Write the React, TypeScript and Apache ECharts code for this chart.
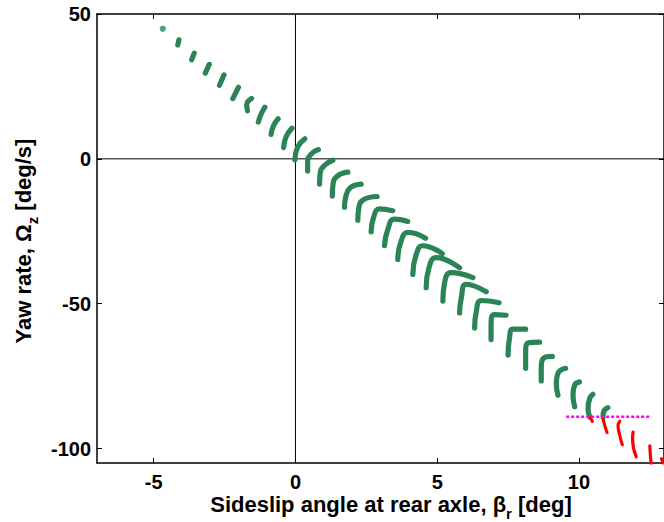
import React, { useEffect, useRef } from "react";
import * as echarts from "echarts";

type Pt = [number, number];

const xRange: Pt = [-7, 13];
const yRange: Pt = [-105, 50];
const xTicks = [-5, 0, 5, 10];
const yTicks = [-100, -50, 0, 50];

// stable (green) trajectories: each arc from its upper-right end down to its lower end
const greenArcs: Pt[][] = [
  [[-4.68, 44.9]],
  [[-4.11, 41.1], [-4.15, 39.3]],
  [[-3.57, 36.5], [-3.66, 34.2]],
  [[-3.04, 32.6], [-3.18, 29.6]],
  [[-2.52, 29.0], [-2.68, 25.4]],
  [[-2.01, 24.7], [-2.21, 20.8]],
  [[-1.55, 20.8], [-1.72, 18.6], [-1.69, 16.6]],
  [[-1.08, 17.8], [-1.21, 15.5], [-1.31, 12.7]],
  [[-0.61, 13.8], [-0.78, 11.3], [-0.86, 8.4]],
  [[-0.12, 10.6], [-0.33, 7.6], [-0.42, 3.9]],
  [[0.33, 6.9], [0.08, 4.1], [-0.02, -0.3]],
  [[0.81, 3.2], [0.55, 1.6], [0.43, -1.1], [0.43, -4.2]],
  [[1.32, -0.5], [1.02, -2.3], [0.87, -5.1], [0.85, -8.7]],
  [[1.85, -4.6], [1.46, -6.1], [1.32, -9.2], [1.3, -12.8]],
  [[2.32, -8.7], [1.93, -10.0], [1.77, -13.3], [1.73, -16.7]],
  [[2.88, -13.0], [2.4, -14.1], [2.23, -17.3], [2.2, -21.2]],
  [[3.43, -17.9], [2.96, -17.3], [2.75, -20.4], [2.67, -25.2]],
  [[3.96, -21.6], [3.49, -20.8], [3.26, -24.3], [3.14, -30.0]],
  [[4.59, -27.4], [3.97, -25.4], [3.73, -28.3], [3.61, -34.7]],
  [[5.18, -32.7], [4.49, -30.0], [4.26, -33.0], [4.14, -39.9]],
  [[5.79, -37.6], [4.97, -34.1], [4.71, -37.6], [4.61, -44.5]],
  [[6.26, -41.0], [5.49, -39.3], [5.26, -42.8], [5.2, -49.1]],
  [[6.73, -45.9], [6.02, -43.3], [5.85, -48.0], [5.79, -53.2]],
  [[7.18, -49.7], [6.56, -48.9], [6.38, -52.6], [6.32, -58.4]],
  [[7.43, -54.0], [7.02, -53.8], [6.9, -57.2], [6.9, -62.4]],
  [[8.12, -58.8], [7.67, -58.8], [7.55, -61.9], [7.5, -67.7]],
  [[8.61, -63.3], [8.2, -63.6], [8.12, -67.1], [8.12, -72.3]],
  [[9.06, -68.2], [8.73, -69.0], [8.67, -72.3], [8.67, -76.7]],
  [[9.53, -72.3], [9.26, -74.0], [9.2, -77.5], [9.26, -81.6]],
  [[10.02, -77.0], [9.85, -78.1], [9.79, -81.5], [9.85, -85.6]],
  [[10.49, -81.3], [10.38, -82.7], [10.32, -86.2], [10.38, -89.1]],
  [[11.02, -85.9], [10.87, -87.3], [10.85, -89.1]],
];

// unstable (red) trajectories below the limit
const redArcs: Pt[][] = [
  [[10.4, -89.4], [10.47, -90.6]],
  [[10.85, -89.7], [10.91, -92.0], [10.99, -94.5]],
  [[11.44, -90.6], [11.38, -92.0], [11.44, -95.5], [11.53, -98.7]],
  [[11.91, -94.3], [11.89, -96.6], [12.02, -102.9]],
  [[12.5, -99.1], [12.52, -102.4], [12.55, -105.8]],
  [[12.91, -103.5], [12.99, -105.3]],
];

const limitX = [9.55, 12.55];
const limitY = -89;

const GREEN = "#2a8456";
const RED = "#ff0000";
const MAGENTA = "#ff00ff";
const FONT = "'Liberation Sans', Arial, sans-serif";

function arcSeries(arcs: Pt[][], color: string, width: number): any[] {
  return arcs.map((arc) =>
    arc.length === 1
      ? {
          type: "scatter",
          data: arc,
          symbol: "circle",
          symbolSize: width + 1,
          itemStyle: { color },
          z: 3,
          silent: true,
        }
      : {
          type: "line",
          data: arc,
          showSymbol: false,
          smooth: 0.5,
          lineStyle: { color, width, cap: "round", join: "round" },
          z: 3,
          silent: true,
        }
  );
}

export default function App() {
  const ref = useRef<HTMLDivElement>(null);

  useEffect(() => {
    if (!ref.current) return;
    const chart = echarts.init(ref.current, undefined, { renderer: "svg" });

    const axisCommon = {
      type: "value",
      splitLine: { show: false },
      axisLine: { show: true, onZero: false, lineStyle: { color: "#000", width: 1.5 } },
    };
    const tickStyle = (vals: number[]) => ({
      show: true,
      inside: true,
      length: 5,
      customValues: vals,
      lineStyle: { color: "#000" },
    });
    const labelStyle = {
      color: "#000",
      fontSize: 20,
      fontWeight: "bold",
      fontFamily: FONT,
    };
    const rich = {
      m: { fontSize: 22, fontWeight: "bold", fontFamily: FONT, lineHeight: 34, fill: "#000" },
      s: { fontSize: 15, fontWeight: "bold", fontFamily: FONT, lineHeight: 12, verticalAlign: "bottom", fill: "#000" },
    };

    const option: any = {
      animation: false,
      backgroundColor: "#fff",
      grid: { left: 97, right: -1, top: 14, bottom: 59, containLabel: false },
      xAxis: [
        {
          ...axisCommon,
          min: xRange[0],
          max: xRange[1],
          position: "bottom",
          axisTick: tickStyle(xTicks),
          axisLabel: { ...labelStyle, customValues: xTicks, margin: 9 },
        },
        {
          ...axisCommon,
          min: xRange[0],
          max: xRange[1],
          position: "top",
          axisTick: tickStyle(xTicks),
          axisLabel: { show: false },
        },
      ],
      yAxis: [
        {
          ...axisCommon,
          min: yRange[0],
          max: yRange[1],
          position: "left",
          axisTick: tickStyle(yTicks),
          axisLabel: { ...labelStyle, customValues: yTicks, margin: 6 },
        },
        {
          ...axisCommon,
          min: yRange[0],
          max: yRange[1],
          position: "right",
          axisTick: tickStyle(yTicks),
          axisLabel: { show: false },
        },
      ],
      graphic: [
        {
          type: "text",
          x: 391,
          y: 504,
          silent: true,
          style: {
            text: "{m|Sideslip angle at rear axle, β}{s|r}{m| [deg]}",
            align: "center",
            verticalAlign: "middle",
            fill: "#000",
            rich,
          },
        },
        {
          type: "text",
          x: 23,
          y: 241,
          rotation: Math.PI / 2,
          silent: true,
          style: {
            text: "{m|Yaw rate, Ω}{s|z}{m| [deg/s]}",
            align: "center",
            verticalAlign: "middle",
            fill: "#000",
            rich,
          },
        },
      ],
      series: [
        {
          type: "line",
          data: [
            [0, yRange[0]],
            [0, yRange[1]],
          ],
          showSymbol: false,
          lineStyle: { color: "#000", width: 1 },
          z: 1,
          silent: true,
        },
        {
          type: "line",
          data: [
            [xRange[0], 0],
            [xRange[1], 0],
          ],
          showSymbol: false,
          lineStyle: { color: "#000", width: 1 },
          z: 1,
          silent: true,
        },
        ...arcSeries(greenArcs, GREEN, 5.2),
        ...arcSeries(redArcs, RED, 3.2),
        {
          type: "line",
          data: limitX.map((x) => [x, limitY]),
          showSymbol: false,
          lineStyle: { color: MAGENTA, width: 2.5, type: [3, 2] },
          z: 4,
          silent: true,
        },
      ],
    };

    chart.setOption(option);
    return () => chart.dispose();
  }, []);

  return (
    <div
      ref={ref}
      style={{ position: "fixed", left: 0, top: 0, width: 664, height: 522, background: "#fff" }}
    />
  );
}
